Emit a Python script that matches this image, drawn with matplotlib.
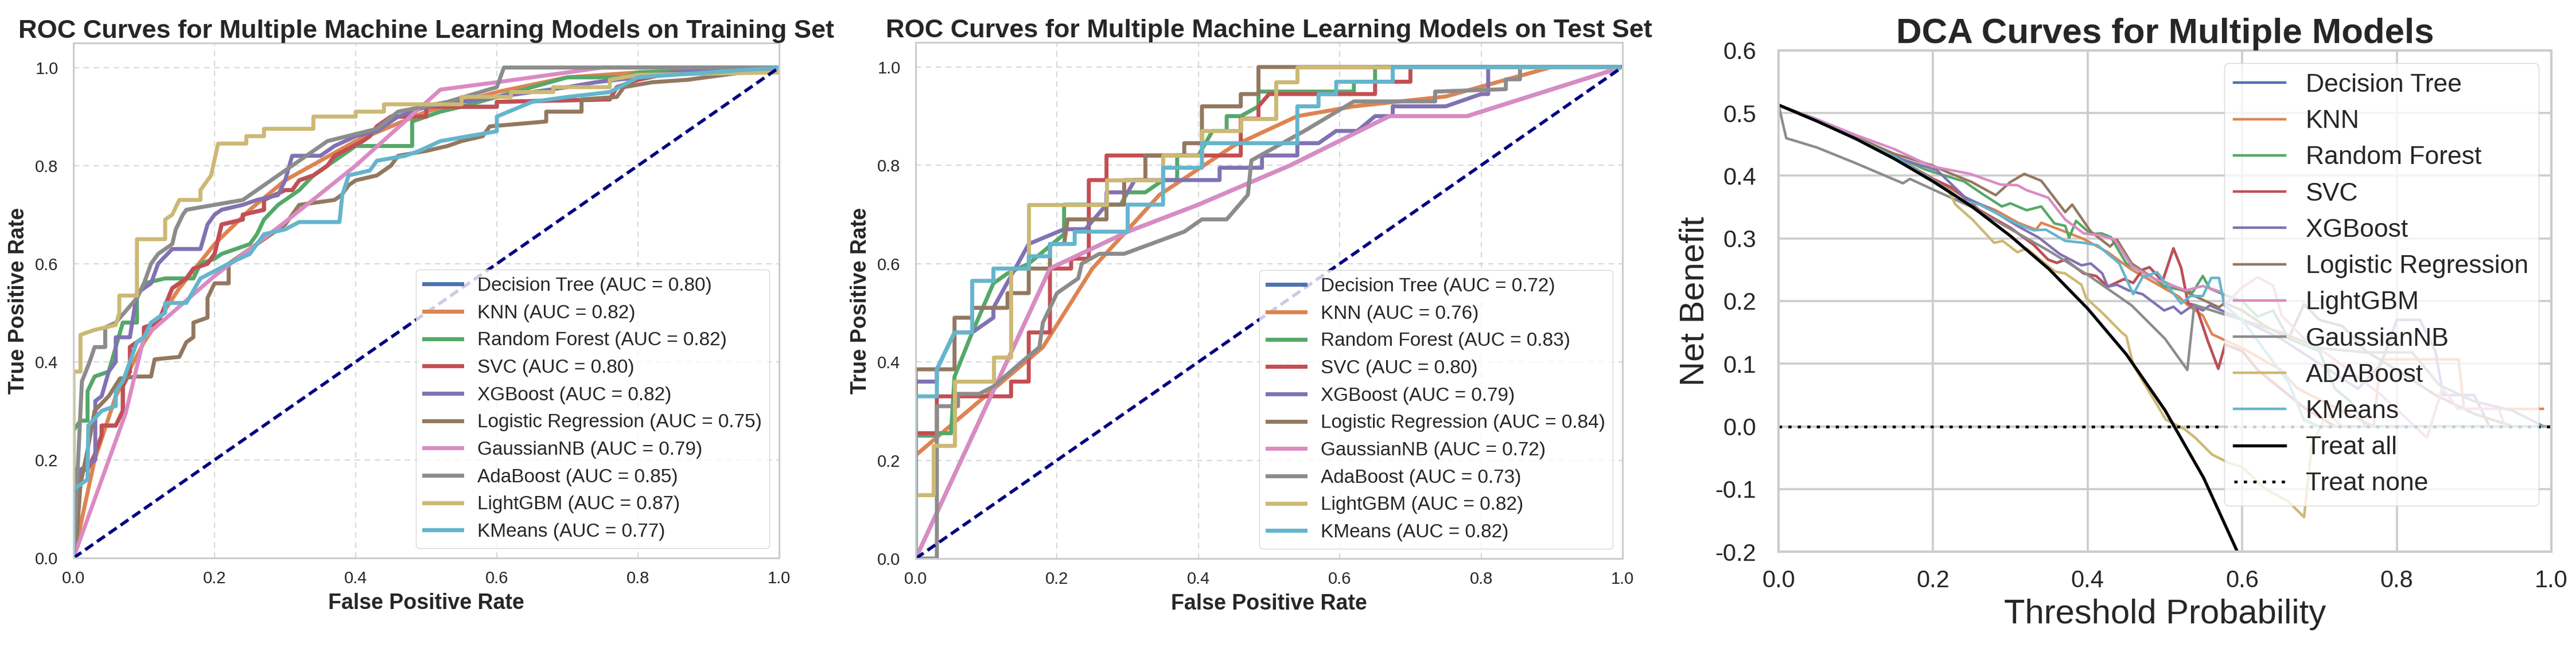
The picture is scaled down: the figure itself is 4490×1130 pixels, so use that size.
import matplotlib
matplotlib.use("Agg")
import matplotlib.pyplot as plt
import numpy as np

plt.rcParams['font.family'] = ['Liberation Sans', 'DejaVu Sans']
plt.rcParams['axes.unicode_minus'] = True

TEXT = '#262626'
GRID = '#cccccc'

models = ['Decision Tree', 'KNN', 'Random Forest', 'SVC', 'XGBoost',
          'Logistic Regression', 'GaussianNB', 'AdaBoost', 'LightGBM', 'KMeans']
colors = ['#4C72B0', '#DD8452', '#55A868', '#C44E52', '#8172B3',
          '#937860', '#DA8BC3', '#8C8C8C', '#CCB974', '#64B5CD']
auc_train = [0.80, 0.82, 0.82, 0.80, 0.82, 0.75, 0.79, 0.85, 0.87, 0.77]
auc_test = [0.72, 0.76, 0.83, 0.80, 0.79, 0.84, 0.72, 0.73, 0.82, 0.82]

# ---------------- ROC, training set ----------------
tr_svc_fpr = [0, 0, .02, .03, .04, .04, .06, .07, .07, .08, .08, .10, .10, .12, .14, .16, .17, .19, .20, .21,
              .24, .24, .27, .27, .30, .31, .32, .34, .35, .36, .37, .39, .41, .42, .43, .45, .50, .50, .60, .60,
              .76, .77, .80, .85, 1.0]
tr_svc_tpr = [0, .18, .18, .21, .25, .27, .27, .30, .35, .38, .43, .45, .47, .48, .55, .57, .59, .60, .62, .68,
              .69, .70, .71, .73, .75, .75, .77, .78, .79, .80, .82, .835, .85, .86, .88, .90, .90, .92, .92, .93,
              .935, .96, .975, .99, 1.0]
tr_dt_fpr = tr_svc_fpr
tr_dt_tpr = tr_svc_tpr
tr_knn_fpr = [0, .03, .06, .10, .15, .20, .25, .30, .35, .40, .45, .50, .60, .70, .80, 1.0]
tr_knn_tpr = [0, .20, .33, .44, .55, .64, .71, .77, .81, .85, .88, .91, .95, .98, .99, 1.0]
tr_rf_fpr = [0, 0, .01, .02, .02, .03, .05, .06, .07, .09, .09, .10, .13, .17, .18, .20, .21, .23, .25, .26,
             .27, .29, .32, .34, .37, .40, .48, .48, .50, .52, .55, .60, .65, .70, .78, .80, 1.0]
tr_rf_tpr = [0, .26, .28, .28, .34, .37, .38, .43, .48, .48, .53, .56, .57, .57, .60, .61, .62, .63, .64, .66,
             .69, .72, .75, .78, .81, .84, .84, .89, .90, .91, .92, .94, .96, .98, .98, .99, 1.0]
tr_xgb_fpr = [0, .01, .031, .031, .04, .05, .06, .06, .08, .09, .10, .11, .12, .14, .18, .19, .20, .21, .24, .26,
              .29, .30, .31, .35, .37, .40, .43, .46, .50, .55, .60, .70, .74, .80, .85, 1.0]
tr_xgb_tpr = [0, .18, .20, .32, .33, .38, .40, .45, .45, .54, .55, .56, .60, .63, .63, .68, .70, .71, .72, .73,
              .74, .77, .82, .82, .84, .86, .87, .90, .92, .93, .94, .96, .97, .98, .99, 1.0]
tr_lr_fpr = [0, .005, .01, .02, .03, .05, .066, .09, .11, .115, .15, .16, .17, .17, .19, .19, .20, .22, .22, .24,
             .27, .30, .32, .37, .38, .39, .40, .43, .45, .46, .50, .53, .55, .58, .59, .67, .67, .72, .72, .77,
             .78, .82, .87, 1.0]
tr_lr_tpr = [0, .05, .15, .22, .30, .33, .366, .37, .37, .405, .41, .44, .45, .48, .49, .53, .56, .56, .60, .62,
             .65, .68, .72, .73, .74, .76, .77, .78, .80, .82, .83, .84, .85, .86, .88, .89, .91, .91, .935, .94,
             .96, .97, .975, 1.0]
tr_gnb_fpr = [0, .074, .10, .20, .30, .40, .52, .60, .70, .75, 1.0]
tr_gnb_tpr = [0, .295, .45, .575, .685, .80, .955, .97, .99, 1.0, 1.0]
tr_ada_fpr = [0, .012, .023, .03, .045, .045, .06, .09, .10, .11, .12, .14, .145, .155, .16, .24, .30, .36,
              .43, .46, .53, .60, .61, 1.0]
tr_ada_tpr = [0, .36, .40, .43, .43, .47, .48, .53, .56, .60, .62, .64, .67, .70, .71, .73, .79, .85,
              .875, .91, .93, .96, 1.0, 1.0]
tr_lgbm_fpr = [0, 0, .01, .01, .03, .06, .065, .065, .09, .09, .13, .13, .14, .15, .18, .18, .195, .205, .245,
               .245, .27, .27, .34, .34, .40, .40, .44, .44, .55, .55, .62, .62, .68, .68, .76, .76, .80, 1.0, 1.0]
tr_lgbm_tpr = [0, .38, .38, .455, .465, .475, .50, .535, .535, .65, .65, .69, .70, .73, .73, .75, .78, .845, .845,
               .86, .86, .875, .875, .90, .90, .91, .91, .925, .925, .94, .94, .95, .95, .96, .96, .975, .985, .99, 1.0]
tr_km_fpr = [0, 0, .01, .02, .021, .04, .06, .06, .07, .08, .09, .10, .11, .13, .13, .16, .18, .20, .22, .25,
             .27, .30, .32, .377, .381, .39, .42, .43, .47, .49, .52, .56, .60, .60, .65, .70, .76, .80, .90, 1.0]
tr_km_tpr = [0, .14, .15, .16, .27, .30, .31, .34, .36, .40, .44, .45, .48, .50, .52, .52, .57, .585, .60, .62,
             .66, .67, .685, .685, .74, .78, .79, .81, .82, .83, .85, .86, .87, .90, .93, .94, .95, .98, .99, 1.0]

# ---------------- ROC, test set ----------------
te_gnb_fpr = [0, .19, .30, .40, .53, .67, .78, 1.0]
te_gnb_tpr = [0, .59, .665, .72, .80, .90, .90, 1.0]
te_dt_fpr = te_gnb_fpr
te_dt_tpr = te_gnb_tpr
te_knn_fpr = [0, 0, .18, .25, .345, .45, .54, .62, .75, .90, 1.0]
te_knn_tpr = [0, .21, .43, .59, .74, .84, .90, .92, .94, 1.0, 1.0]
te_rf_fpr = [0, 0, .025, .025, .05, .055, .08, .11, .13, .16, .21, .21, .29, .30, .325, .35, .37, .37, .40, .42,
             .44, .44, .46, .485, .485, .62, .62, .65, .65, 1.0]
te_rf_tpr = [0, .25, .25, .255, .255, .37, .46, .56, .58, .60, .66, .72, .72, .745, .745, .77, .77, .82, .82, .87,
             .87, .90, .90, .92, .95, .95, .97, .97, 1.0, 1.0]
te_svc_fpr = [0, 0, .03, .03, .135, .135, .16, .16, .19, .19, .22, .22, .245, .245, .27, .27, .46, .46, .485,
              .485, .50, .65, .65, .70, .70, 1.0]
te_svc_tpr = [0, .255, .255, .33, .33, .36, .36, .46, .46, .59, .59, .61, .61, .77, .77, .82, .82, .895, .895,
              .92, .945, .945, .97, .97, 1.0, 1.0]
te_xgb_fpr = [0, 0, .03, .03, .055, .08, .11, .11, .16, .21, .24, .27, .27, .30, .31, .43, .43, .49, .49, .54,
              .54, .57, .595, .625, .65, .675, .675, .75, .80, .81, .81, .81, 1.0]
te_xgb_tpr = [0, .36, .36, .385, .46, .46, .49, .51, .64, .67, .67, .72, .745, .745, .77, .77, .795, .795, .82, .82,
              .845, .845, .87, .87, .90, .90, .92, .92, .945, .945, .975, 1.0, 1.0]
te_lr_fpr = [0, 0, .055, .055, .08, .08, .13, .13, .16, .16, .19, .19, .21, .215, .27, .27, .295, .295, .325,
             .325, .38, .38, .405, .405, .46, .46, .485, .485, 1.0]
te_lr_tpr = [0, .385, .385, .49, .49, .51, .51, .54, .54, .59, .59, .64, .64, .69, .69, .72, .72, .77, .77,
             .82, .82, .845, .845, .92, .92, .945, .945, 1.0, 1.0]
te_ada_fpr = [0, .03, .03, .06, .06, .09, .11, .15, .175, .18, .20, .23, .235, .26, .295, .38, .405, .44, .47,
              .475, .50, .55, .62, .735, .735, .835, .835, .855, .855, 1.0]
te_ada_tpr = [0, 0, .31, .31, .335, .335, .35, .40, .43, .48, .54, .57, .60, .62, .62, .665, .69, .69, .74,
              .81, .83, .87, .93, .93, .95, .955, .975, .975, 1.0, 1.0]
te_lgbm_fpr = [0, 0, .025, .025, .055, .055, .11, .11, .135, .135, .16, .16, .27, .27, .35, .35, .405, .405, .46,
               .46, .51, .51, .54, .54, 1.0]
te_lgbm_tpr = [0, .13, .13, .23, .23, .36, .36, .41, .41, .59, .59, .72, .72, .77, .77, .82, .82, .87, .87,
               .895, .895, .97, .97, 1.0, 1.0]
te_km_fpr = [0, 0, .03, .03, .055, .08, .08, .11, .11, .16, .16, .19, .19, .225, .225, .30, .30, .35, .35, .405,
             .405, .54, .54, .57, .57, .595, .595, .675, .675, 1.0]
te_km_tpr = [0, .33, .33, .385, .46, .46, .565, .565, .59, .59, .615, .615, .64, .64, .665, .665, .72, .72, .795,
             .795, .845, .845, .92, .92, .945, .945, .97, .97, 1.0, 1.0]

roc_train = [(tr_dt_fpr, tr_dt_tpr), (tr_knn_fpr, tr_knn_tpr), (tr_rf_fpr, tr_rf_tpr), (tr_svc_fpr, tr_svc_tpr),
             (tr_xgb_fpr, tr_xgb_tpr), (tr_lr_fpr, tr_lr_tpr), (tr_gnb_fpr, tr_gnb_tpr), (tr_ada_fpr, tr_ada_tpr),
             (tr_lgbm_fpr, tr_lgbm_tpr), (tr_km_fpr, tr_km_tpr)]
roc_test = [(te_dt_fpr, te_dt_tpr), (te_knn_fpr, te_knn_tpr), (te_rf_fpr, te_rf_tpr), (te_svc_fpr, te_svc_tpr),
            (te_xgb_fpr, te_xgb_tpr), (te_lr_fpr, te_lr_tpr), (te_gnb_fpr, te_gnb_tpr), (te_ada_fpr, te_ada_tpr),
            (te_lgbm_fpr, te_lgbm_tpr), (te_km_fpr, te_km_tpr)]

# ---------------- DCA ----------------
dca_models = ['Decision Tree', 'KNN', 'Random Forest', 'SVC', 'XGBoost', 'Logistic Regression',
              'LightGBM', 'GaussianNB', 'ADABoost', 'KMeans']
dca_colors = ['#4C72B0', '#DD8452', '#55A868', '#C44E52', '#8172B3',
              '#937860', '#DA8BC3', '#8C8C8C', '#CCB974', '#64B5CD']

dca_svc_x = [0, .05, .1, .15, .2, .226, .26, .3, .33, .349, .36, .371, .395, .411, .426, .447, .459, .471, .48,
             .497, .511, .521, .53, .54, .555, .569, .578, .6, .62, .65, .68, .72, 1.0]
dca_svc_y = [.513, .488, .46, .43, .395, .38, .345, .317, .29, .266, .261, .266, .244, .24, .223, .235, .229, .25,
             .254, .232, .284, .253, .196, .193, .138, .092, .131, .12, .09, .06, .03, 0, 0]
dca_dt_x = dca_svc_x
dca_dt_y = dca_svc_y
dca_knn_x = [0, .05, .1, .15, .2, .25, .281, .31, .333, .34, .364, .395, .426, .457, .487, .518, .53, .549, .561,
             .577, .6, .65, .671, .72, .77, .779, .88, .887, .989]
dca_knn_y = [.513, .488, .46, .43, .395, .36, .345, .325, .314, .325, .314, .299, .278, .25, .229, .207, .193, .177,
             .147, .138, .125, .09, .061, .03, .0, .107, .107, .028, .028]
dca_rf_x = [0, .05, .1, .15, .19, .208, .24, .265, .289, .3, .321, .34, .357, .371, .376, .385, .404, .418, .43,
            .45, .487, .5, .536, .549, .558, .577, .6, .62, .64, .66, .7, .72, .74, .76, 1.0]
dca_rf_y = [.513, .488, .46, .432, .41, .403, .391, .37, .351, .356, .345, .351, .324, .32, .301, .328, .307, .308,
            .302, .26, .235, .223, .214, .24, .22, .21, .2, .175, .185, .14, .12, .06, .04, .0, .0]
dca_xgb_x = [0, .05, .1, .15, .205, .241, .272, .309, .337, .364, .392, .404, .419, .426, .438, .453, .471, .499,
             .511, .521, .536, .549, .558, .577, .6, .65, .7, .75, .78, .8, .83, .85, .86, .9, .92, 1.0]
dca_xgb_y = [.513, .488, .46, .43, .409, .366, .348, .32, .301, .275, .257, .26, .244, .223, .226, .217, .211, .185,
             .191, .18, .193, .185, .193, .183, .17, .14, .1, .06, .1, .17, .17, .12, .05, .05, .0, .0]
dca_lr_x = [0, .05, .1, .15, .198, .22, .25, .281, .3, .318, .34, .371, .38, .404, .429, .438, .457, .487, .497,
            .549, .57, .577, .6, .63, .66, .68, .7, .73, .76, .8, .85, .9, .95, 1.0]
dca_lr_y = [.513, .49, .462, .435, .417, .405, .39, .369, .39, .403, .392, .342, .354, .311, .287, .298, .26, .235,
            .232, .202, .19, .197, .185, .16, .14, .195, .17, .16, .12, .09, .05, .02, .0, .0]
dca_lgbm_x = [0, .05, .1, .149, .198, .248, .287, .309, .321, .349, .371, .395, .416, .435, .457, .487, .527, .549,
              .574, .577, .6, .62, .64, .651, .68, .716, .78, .839, .859, .879, .932, .94, 1.0]
dca_lgbm_y = [.513, .49, .465, .443, .415, .403, .386, .385, .377, .365, .33, .308, .305, .298, .256, .235, .217,
              .224, .214, .193, .222, .238, .225, .177, .14, .11, .05, -.018, .061, .028, .028, .0, .0]
dca_gnb_x = [0, .01, .05, .1, .161, .17, .2, .25, .3, .35, .401, .457, .5, .529, .538, .576, .6, .65, .7, .76, .82,
             .855, .9, .95, .99]
dca_gnb_y = [.513, .46, .445, .42, .388, .395, .378, .35, .315, .28, .241, .193, .14, .09, .194, .179, .17, .15,
             .125, .118, .118, .066, .04, .025, .0]
dca_ada_x = [0, .05, .1, .15, .2, .22, .229, .251, .279, .29, .309, .321, .358, .371, .392, .398, .42, .444, .45,
             .459, .469, .49, .501, .526, .54, .561, .582, .6, .63, .66, .68, .69, .71, .73, 1.0]
dca_ada_y = [.513, .487, .459, .428, .39, .376, .354, .33, .293, .296, .278, .284, .247, .244, .226, .205, .18, .15,
             .144, .098, .077, .034, .011, -.005, -.019, -.045, -.058, -.065, -.1, -.12, -.145, -.03, .02, .0, .0]
dca_km_x = [0, .05, .1, .15, .2, .24, .26, .287, .309, .33, .346, .371, .395, .413, .441, .459, .471, .49, .521,
            .533, .549, .56, .57, .577, .6, .63, .66, .68, .7, .99]
dca_km_y = [.513, .488, .46, .43, .393, .36, .354, .337, .323, .313, .314, .296, .293, .289, .26, .211, .238, .246,
            .196, .208, .208, .237, .237, .193, .17, .12, .07, .01, .0, .0]

treat_all_x = [0, .05, .1, .15, .2, .25, .3, .35, .4, .45, .5, .55, .6]
treat_all_y = [.513, .487, .459, .427, .391, .351, .304, .251, .188, .115, .026, -.082, -.217]
treat_none_x = [0, 1]
treat_none_y = [0, 0]

dca_curves = [(dca_dt_x, dca_dt_y), (dca_knn_x, dca_knn_y), (dca_rf_x, dca_rf_y), (dca_svc_x, dca_svc_y),
              (dca_xgb_x, dca_xgb_y), (dca_lr_x, dca_lr_y), (dca_lgbm_x, dca_lgbm_y), (dca_gnb_x, dca_gnb_y),
              (dca_ada_x, dca_ada_y), (dca_km_x, dca_km_y)]

W, H = 4490, 1130
fig = plt.figure(figsize=(W / 100, H / 100), dpi=100)


def px_axes(left, top, right, bottom):
    return fig.add_axes([left / W, 1 - bottom / H, (right - left) / W, (bottom - top) / H])


def style_axes(ax, spine_lw):
    ax.set_facecolor('white')
    for s in ax.spines.values():
        s.set_color(GRID)
        s.set_linewidth(spine_lw)
    ax.set_axisbelow(True)


def roc_panel(ax, curves, aucs, title):
    style_axes(ax, 2.2)
    ax.grid(True, color=GRID, linestyle=(0, (5, 4)), linewidth=1.4, alpha=0.8)
    for (fpr, tpr), name, c, a in zip(curves, models, colors, aucs):
        ax.plot(fpr, tpr, color=c, lw=5.0, label=f'{name} (AUC = {a:.2f})')
    ax.plot([0, 1], [0, 1], color='navy', lw=4, dashes=(3, 1.5))
    ax.set_xlim(0, 1.0)
    ax.set_ylim(0, 1.05)
    ax.set_xticks(np.arange(0, 1.01, 0.2))
    ax.set_yticks(np.arange(0, 1.01, 0.2))
    ax.tick_params(length=0, labelsize=21, colors=TEXT)
    ax.tick_params(axis='y', pad=19)
    ax.tick_params(axis='x', pad=16)
    ax.set_xlabel('False Positive Rate', fontsize=27, fontweight='bold', color=TEXT, labelpad=8)
    ax.set_ylabel('True Positive Rate', fontsize=27, fontweight='bold', color=TEXT, labelpad=8)
    ax.set_title(title, fontsize=32.5, fontweight='bold', color=TEXT)
    leg = ax.legend(loc='lower right', fontsize=24, labelspacing=0.5, handlelength=2.0,
                    borderaxespad=0.5, framealpha=0.8, edgecolor=GRID)
    for t in leg.get_texts():
        t.set_color(TEXT)


ax1 = px_axes(128, 75, 1358, 973)
roc_panel(ax1, roc_train, auc_train, 'ROC Curves for Multiple Machine Learning Models on Training Set')
ax2 = px_axes(1596, 74, 2828, 974)
roc_panel(ax2, roc_test, auc_test, 'ROC Curves for Multiple Machine Learning Models on Test Set')

ax3 = px_axes(3100, 88, 4447, 962)
style_axes(ax3, 3.0)
ax3.grid(True, color=GRID, linestyle='-', linewidth=2.6)
for (x, y), name, c in zip(dca_curves, dca_models, dca_colors):
    ax3.plot(x, y, color=c, lw=3.2, label=name)
ax3.plot(treat_all_x, treat_all_y, color='black', lw=3.8, label='Treat all')
ax3.plot(treat_none_x, treat_none_y, color='black', lw=3.4, dashes=(1.2, 2.3), label='Treat none')
ax3.set_xlim(0, 1.0)
ax3.set_ylim(-0.2, 0.6)
ax3.set_xticks(np.arange(0, 1.01, 0.2))
ax3.set_yticks(np.arange(-0.2, 0.61, 0.1))
ax3.set_yticklabels([f'{v:.1f}' for v in np.arange(-0.2, 0.61, 0.1)])
ax3.tick_params(length=0, labelsize=30, colors=TEXT)
ax3.tick_params(axis='y', pad=28)
ax3.tick_params(axis='x', pad=22)
ax3.set_xlabel('Threshold Probability', fontsize=43, color=TEXT, labelpad=8)
ax3.set_ylabel('Net Benefit', fontsize=43, color=TEXT, labelpad=6)
ax3.set_title('DCA Curves for Multiple Models', fontsize=44.5, fontweight='bold', color=TEXT)
leg3 = ax3.legend(loc='upper right', fontsize=32, labelspacing=0.5, handlelength=2.0,
                  borderaxespad=0.5, framealpha=0.8, edgecolor=GRID)
for t in leg3.get_texts():
    t.set_color(TEXT)

fig.savefig('out.png', dpi=100, facecolor='white')
